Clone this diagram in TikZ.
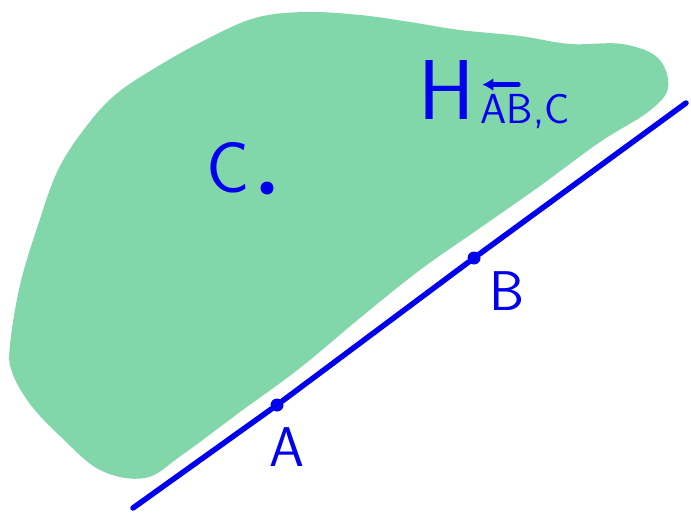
\documentclass[tikz,border=0pt]{standalone}
\usepackage{tikz}
\usetikzlibrary{arrows.meta, positioning}
\definecolor{halfgreen}{RGB}{130,215,170}
\definecolor{penblue}{RGB}{0,0,238}

\begin{document}
\begin{tikzpicture}[
  x=1pt, y=-1pt,
  pt/.style={circle, fill=penblue, inner sep=0pt, minimum size=13pt},
  lbl/.style={text=penblue, inner sep=0pt, font=\fontsize{56}{56}\selectfont\sffamily},
  pen/.style={penblue, line width=5.5pt, line cap=round, line join=round}
]
\useasboundingbox (0,0) rectangle (691,514);

% shaded half-plane
\fill[halfgreen] plot[smooth cycle, tension=0.6] coordinates {
  (10,345) (20,285) (38,225) (58,170) (85,128) (115,95) (155,68)
  (205,40) (255,18) (305,12) (360,15) (410,22) (460,30) (520,36)
  (570,44) (622,44) (658,58) (668,88) (648,112) (600,142) (540,186)
  (480,228) (420,270) (360,318) (300,368) (240,412) (182,455)
  (145,478) (100,470) (60,436) (30,404) (12,372)};

% the line through A and B
\coordinate (start) at (133,508);
\coordinate (end) at (686,103);
\node[pt] (A) at (277,405) {};
\node[pt] (B) at (474,258) {};
\draw[pen] (start) -- (A) -- (B) -- (end);

% the point C
\node[pt] (C) at (267,188) {};
\node[lbl, font=\fontsize{72}{72}\selectfont\sffamily, left=10pt of C, yshift=20pt] (Clbl) {C};

\node[lbl, below=16pt of A, xshift=10pt] (Albl) {A};
\node[lbl, below right=9pt and 11pt of B] (Blbl) {B};

% label of the half-plane
\node[lbl, font=\fontsize{85}{85}\selectfont\sffamily] (H) at (447,90) {H};
\node[lbl, font=\fontsize{42}{42}\selectfont\sffamily, anchor=west]
  (Hsub) at ([xshift=5pt, yshift=-22pt]H.east) {AB,C};
\coordinate (arrtail) at ([xshift=38pt, yshift=10pt]Hsub.north west);
\draw[pen, line width=4.5pt, -{Latex[length=11pt, width=13pt]}]
  (arrtail) -- ([xshift=2pt, yshift=10pt]Hsub.north west);
\end{tikzpicture}
\end{document}
